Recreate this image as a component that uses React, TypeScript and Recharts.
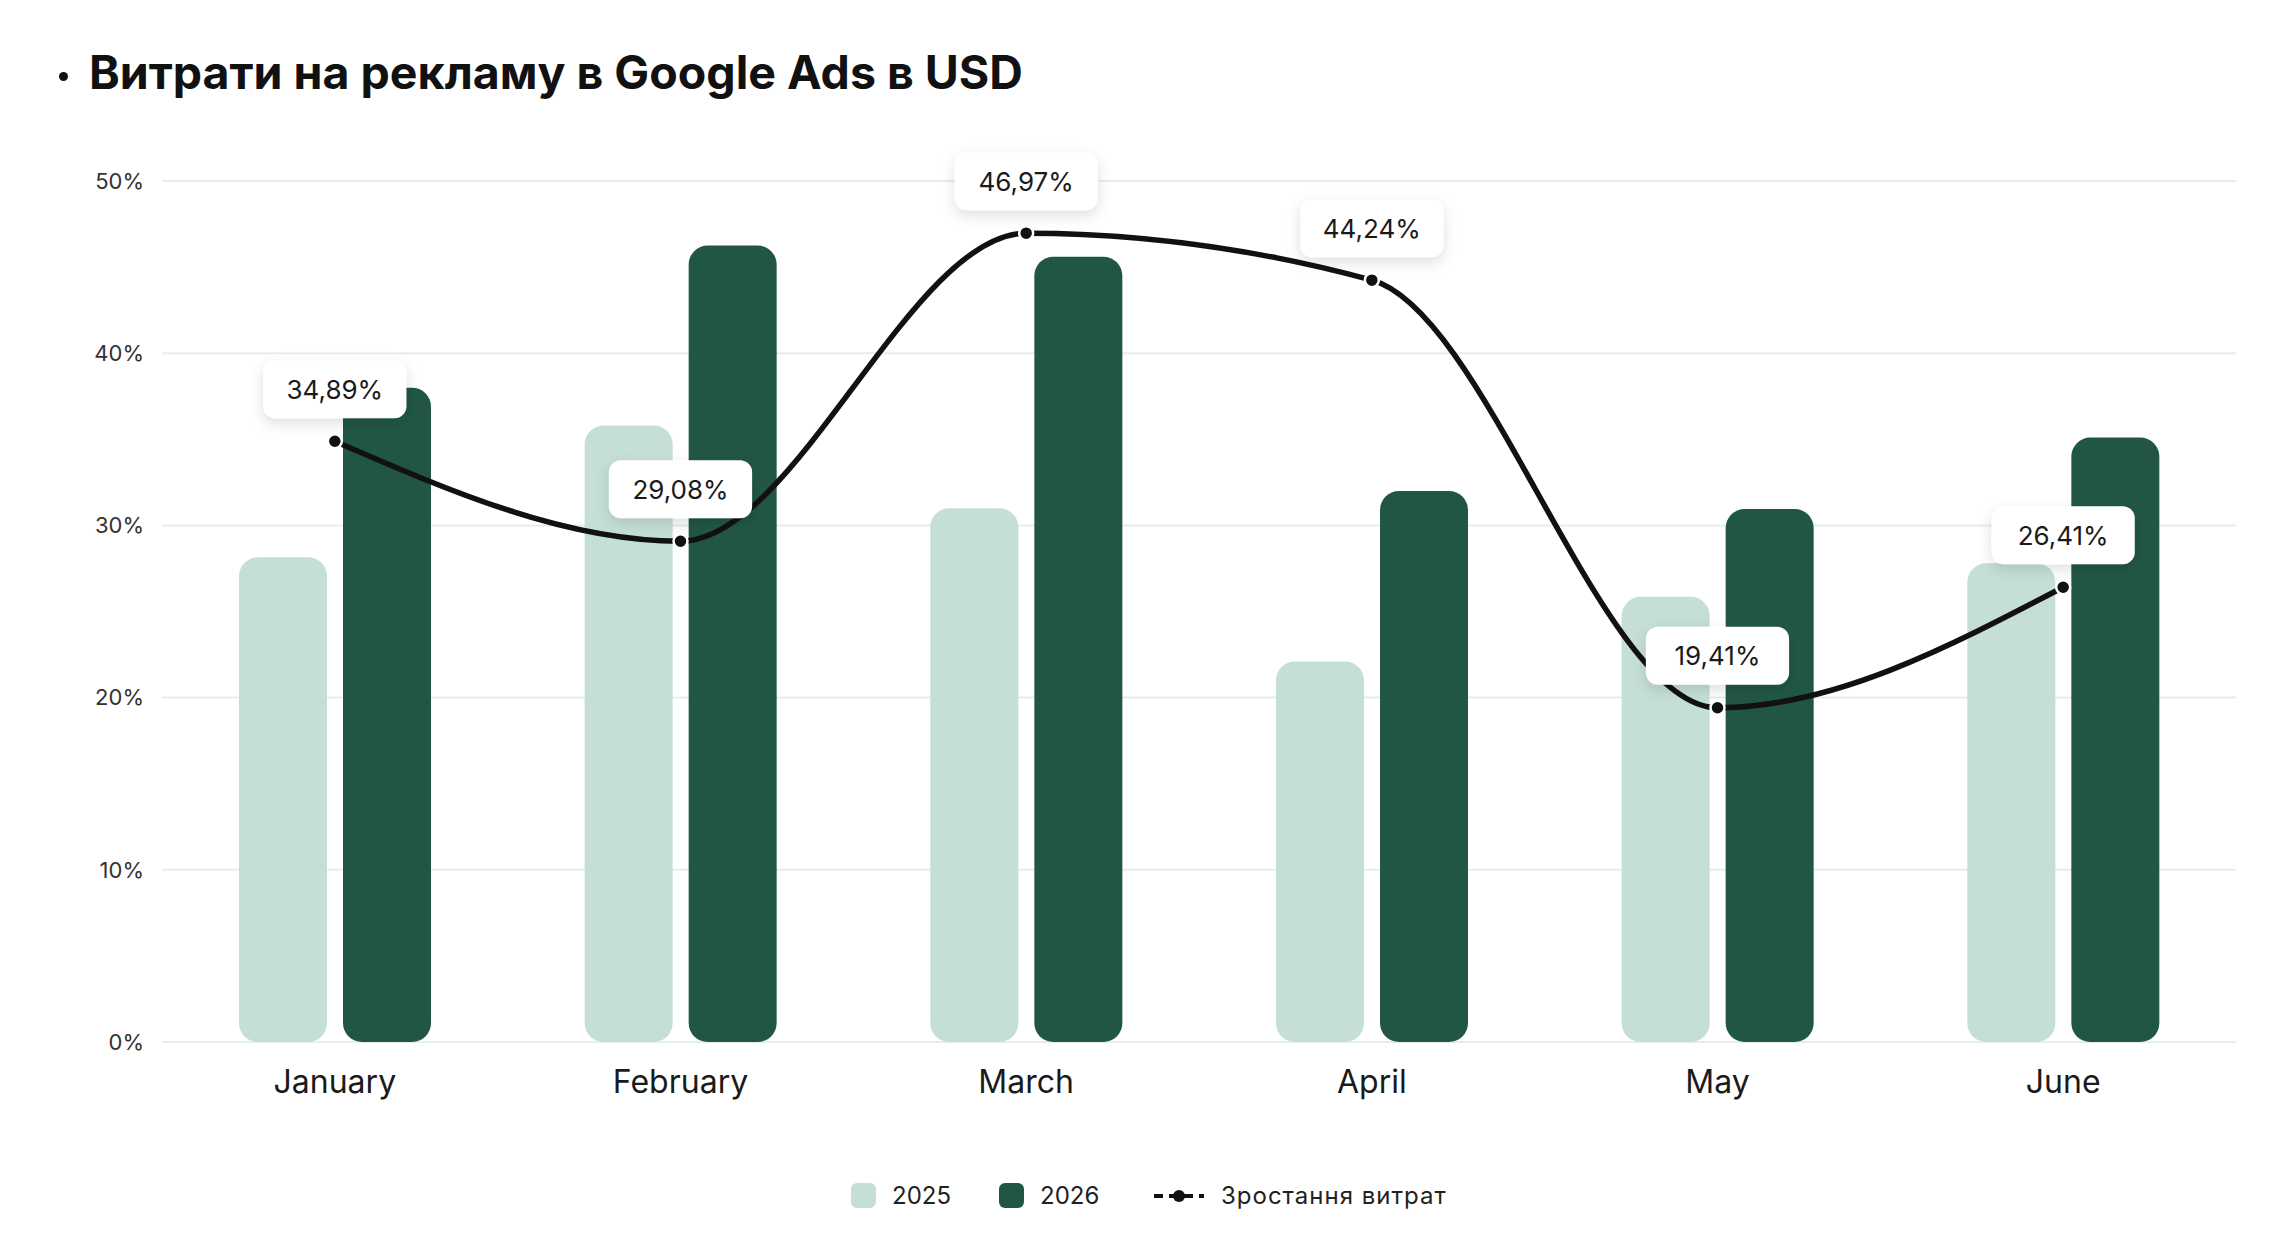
import { ComposedChart, Bar, Line, XAxis, YAxis, CartesianGrid, LabelList } from 'recharts';

const months = ['January', 'February', 'March', 'April', 'May', 'June'];
const spend2025 = [28.15, 35.8, 31.0, 22.1, 25.85, 27.8];
const spend2026 = [38.0, 46.25, 45.6, 32.0, 30.95, 35.1];
const growth = [34.89, 29.08, 46.97, 44.24, 19.41, 26.41];
const yTicks = [0, 10, 20, 30, 40, 50];

const LIGHT = '#C5DFD6';
const DARK = '#215645';
const INK = '#111111';
const GRID = '#E3EFE7';
const FONT = 'Inter, "Noto Sans", sans-serif';

const data = months.map((m, i) => ({
  month: m,
  y2025: spend2025[i],
  y2026: spend2026[i],
  growth: growth[i],
}));

function fmtPct(v: number) {
  return `${v.toFixed(2).replace('.', ',')}%`;
}

function PointLabel(props: any) {
  const { x, y, value, index } = props;
  const text = fmtPct(value);
  const w = text.length * 16.2 + 46;
  const h = 58;
  const cy = y - 52;
  const id = `lblshadow-${index}`;
  return (
    <g>
      <defs>
        <filter id={id} x="-30%" y="-40%" width="160%" height="190%">
          <feDropShadow dx="0" dy="5" stdDeviation="7" floodColor="#000" floodOpacity="0.13" />
        </filter>
      </defs>
      <rect x={x - w / 2} y={cy - h / 2} width={w} height={h} rx={12} fill="#fff" filter={`url(#${id})`} />
      <text
        x={x}
        y={cy}
        textAnchor="middle"
        dominantBaseline="central"
        fontFamily={FONT}
        fontSize={26}
        fill="#1a1a1a"
      >
        {text}
      </text>
    </g>
  );
}

function LegendBar() {
  const item = { display: 'flex', alignItems: 'center', gap: 16 } as const;
  const sq = (c: string) => ({ width: 25, height: 25, borderRadius: 6, background: c });
  return (
    <div
      style={{
        position: 'absolute',
        left: 851,
        top: 1181,
        display: 'flex',
        alignItems: 'center',
        fontFamily: FONT,
        fontSize: 24,
        color: '#222',
      }}
    >
      <div style={{ ...item, width: 148 }}>
        <div style={sq(LIGHT)} />
        <span>2025</span>
      </div>
      <div style={{ ...item, width: 154 }}>
        <div style={sq(DARK)} />
        <span>2026</span>
      </div>
      <div style={item}>
        <svg width={52} height={16}>
          <line x1={1} y1={8} x2={51} y2={8} stroke={INK} strokeWidth={4} strokeDasharray="9 6" />
          <circle cx={26} cy={8} r={6} fill={INK} />
        </svg>
        <span style={{ letterSpacing: 1 }}>Зростання витрат</span>
      </div>
    </div>
  );
}

export default function App() {
  return (
    <div style={{ position: 'absolute', left: 0, top: 0, width: 2296, height: 1246, background: '#fff' }}>
      <div
        style={{
          position: 'absolute',
          left: 59,
          top: 72,
          width: 9,
          height: 9,
          borderRadius: '50%',
          background: INK,
        }}
      />
      <div
        style={{
          position: 'absolute',
          left: 89,
          top: 44,
          fontFamily: FONT,
          fontWeight: 700,
          fontSize: 46.5,
          color: INK,
          whiteSpace: 'nowrap',
        }}
      >
        Витрати на рекламу в Google Ads в USD
      </div>
      <div style={{ position: 'absolute', left: 0, top: 0 }}>
        <ComposedChart
          width={2296}
          height={1246}
          data={data}
          margin={{ top: 181, right: 60, bottom: 144, left: 0 }}
          barGap={16}
        >
          <CartesianGrid vertical={false} stroke={GRID} strokeWidth={2} />
          <XAxis
            dataKey="month"
            axisLine={false}
            tickLine={false}
            height={60}
            tickMargin={22}
            tick={{ fontFamily: FONT, fontSize: 32, fill: '#1a1a1a' }}
          />
          <YAxis
            domain={[0, 50]}
            ticks={yTicks}
            width={162}
            axisLine={false}
            tickLine={false}
            tickMargin={12}
            tickFormatter={(v: number) => `${v}%`}
            tick={{ fontFamily: FONT, fontSize: 22, fill: '#333' }}
          />
          <Bar dataKey="y2025" fill={LIGHT} barSize={88} radius={[19, 19, 19, 19]} isAnimationActive={false} />
          <Bar dataKey="y2026" fill={DARK} barSize={88} radius={[19, 19, 19, 19]} isAnimationActive={false} />
          <Line
            type="monotone"
            dataKey="growth"
            stroke={INK}
            strokeWidth={5.5}
            dot={{ r: 7, fill: INK, stroke: '#fff', strokeWidth: 2.5 }}
            activeDot={false}
            isAnimationActive={false}
          >
            <LabelList dataKey="growth" content={PointLabel} />
          </Line>
        </ComposedChart>
      </div>
      <LegendBar />
    </div>
  );
}
